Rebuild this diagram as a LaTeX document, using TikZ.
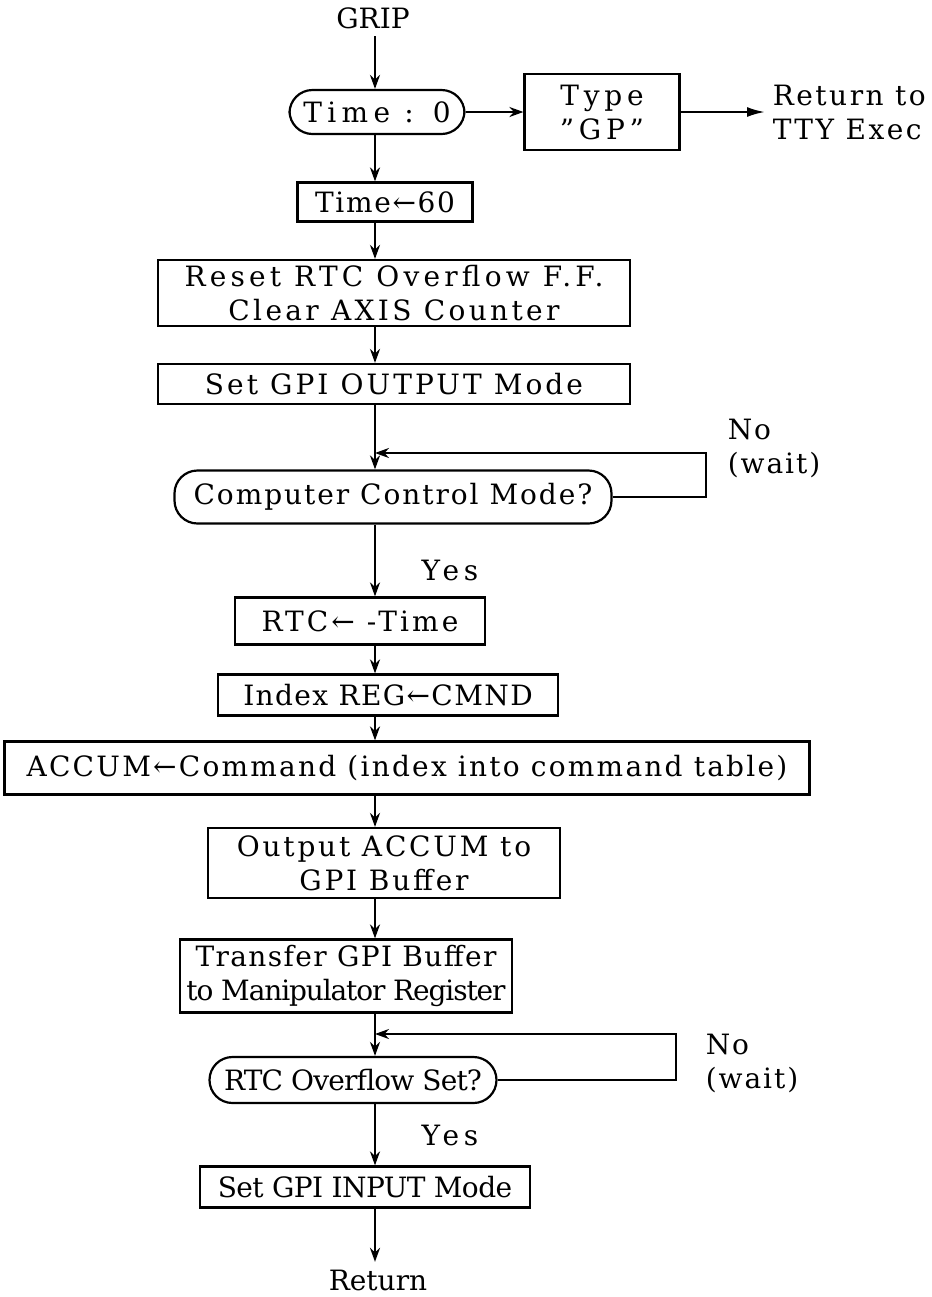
\documentclass[tikz,border=0pt]{standalone}
\usepackage{fontspec}
\setmainfont{DejaVu Serif}
\usetikzlibrary{arrows.meta}
\begin{document}
\begin{tikzpicture}[x=0.5pt,y=-0.5pt,line width=1.1pt,
  txt/.style={font=\fontsize{14}{17}\selectfont\addfontfeatures{LetterSpace=#1}},
  txt/.default=0,
  proc/.style={txt=#1,draw,inner sep=0pt,align=center},
  proc/.default=10,
  decide/.style={proc=#1,rounded corners=11.5pt},
  decide/.default=10,
  flow/.style={-{Stealth[length=7pt,width=5pt]}}]
\useasboundingbox (0,0) rectangle (932,1297);
\coordinate (spine) at (375,0);

\node[txt] (grip) at (373,18) {GRIP};
\node[decide=19,minimum width=87.5pt,minimum height=22pt] (t0) at (377,112) {Time : 0};
\node[proc=17,minimum width=77.5pt,minimum height=38pt] (type) at (602,112) {Type\\"GP"};
\node[txt=9,anchor=west,align=left] (tty) at (765,112) {Return to\\TTY Exec};
\node[proc=6,minimum width=87.5pt,minimum height=19.5pt] (t60) at (385,202) {Time←60};
\node[proc=15,minimum width=236pt,minimum height=33pt] (reset) at (394,293) {Reset RTC Overflow F.F.\\{\addfontfeatures{LetterSpace=12}Clear AXIS Counter}};
\node[proc=11,minimum width=236pt,minimum height=20pt] (outmode) at (394,384) {Set GPI OUTPUT Mode};
\node[decide=7,minimum width=218.5pt,minimum height=26.5pt] (ccm) at (393,497) {Computer Control Mode?};
\node[txt=7,anchor=west,align=left] (no1) at (720,448) {No\\(wait)};
\node[txt=17] (yes1) at (450,570) {Yes};
\node[proc=11,minimum width=125pt,minimum height=23.5pt] (rtct) at (360,621) {RTC← -Time};
\node[proc=5,minimum width=170pt,minimum height=20.5pt] (index) at (388,695) {Index REG←CMND};
\node[proc=8,minimum width=402.5pt,minimum height=26.5pt] (accum) at (407,768) {ACCUM←Command (index into command table)};
\node[proc=10,minimum width=176pt,minimum height=35pt] (output) at (384,863) {Output ACCUM to\\GPI Buffer};
\node[proc=-4,minimum width=166pt,minimum height=36.5pt] (transfer) at (346,976) {{\addfontfeatures{LetterSpace=5}Transfer GPI Buffer}\\to Manipulator Register};
\node[decide=-3,minimum width=143.5pt,minimum height=23pt] (ovf) at (353,1080) {RTC Overflow Set?};
\node[txt=7,anchor=west,align=left] (no2) at (698,1063) {No\\(wait)};
\node[txt=17] (yes2) at (450,1135) {Yes};
\node[proc=-2,minimum width=165pt,minimum height=20.5pt] (inmode) at (365,1187) {Set GPI INPUT Mode};
\node[txt] (retn) at (378,1280) {Return};

\coordinate (wait1) at (375,453);
\coordinate (wait2) at (375,1034);

\draw[flow] (grip.south -| spine) -- (t0.north -| spine);
\draw[flow] (t0.east) -- (t0.east -| type.west);
\draw[-{Latex[length=9pt,width=5pt]}] (type.east |- tty) -- (tty.west);
\draw[flow] (t0.south -| spine) -- (t60.north -| spine);
\draw[flow] (t60.south -| spine) -- (reset.north -| spine);
\draw[flow] (reset.south -| spine) -- (outmode.north -| spine);
\draw[flow] (outmode.south -| spine) -- (ccm.north -| spine);
\draw[flow] (ccm.east) -- ++(93,0) |- (wait1);
\draw[flow] (ccm.south -| spine) -- (rtct.north -| spine);
\draw[flow] (rtct.south -| spine) -- (index.north -| spine);
\draw[flow] (index.south -| spine) -- (accum.north -| spine);
\draw[flow] (accum.south -| spine) -- (output.north -| spine);
\draw[flow] (output.south -| spine) -- (transfer.north -| spine);
\draw[flow] (transfer.south -| spine) -- (ovf.north -| spine);
\draw[flow] (ovf.east) -- ++(178,0) |- (wait2);
\draw[flow] (ovf.south -| spine) -- (inmode.north -| spine);
\draw[flow] (inmode.south -| spine) -- (retn.north -| spine);
\end{tikzpicture}
\end{document}
